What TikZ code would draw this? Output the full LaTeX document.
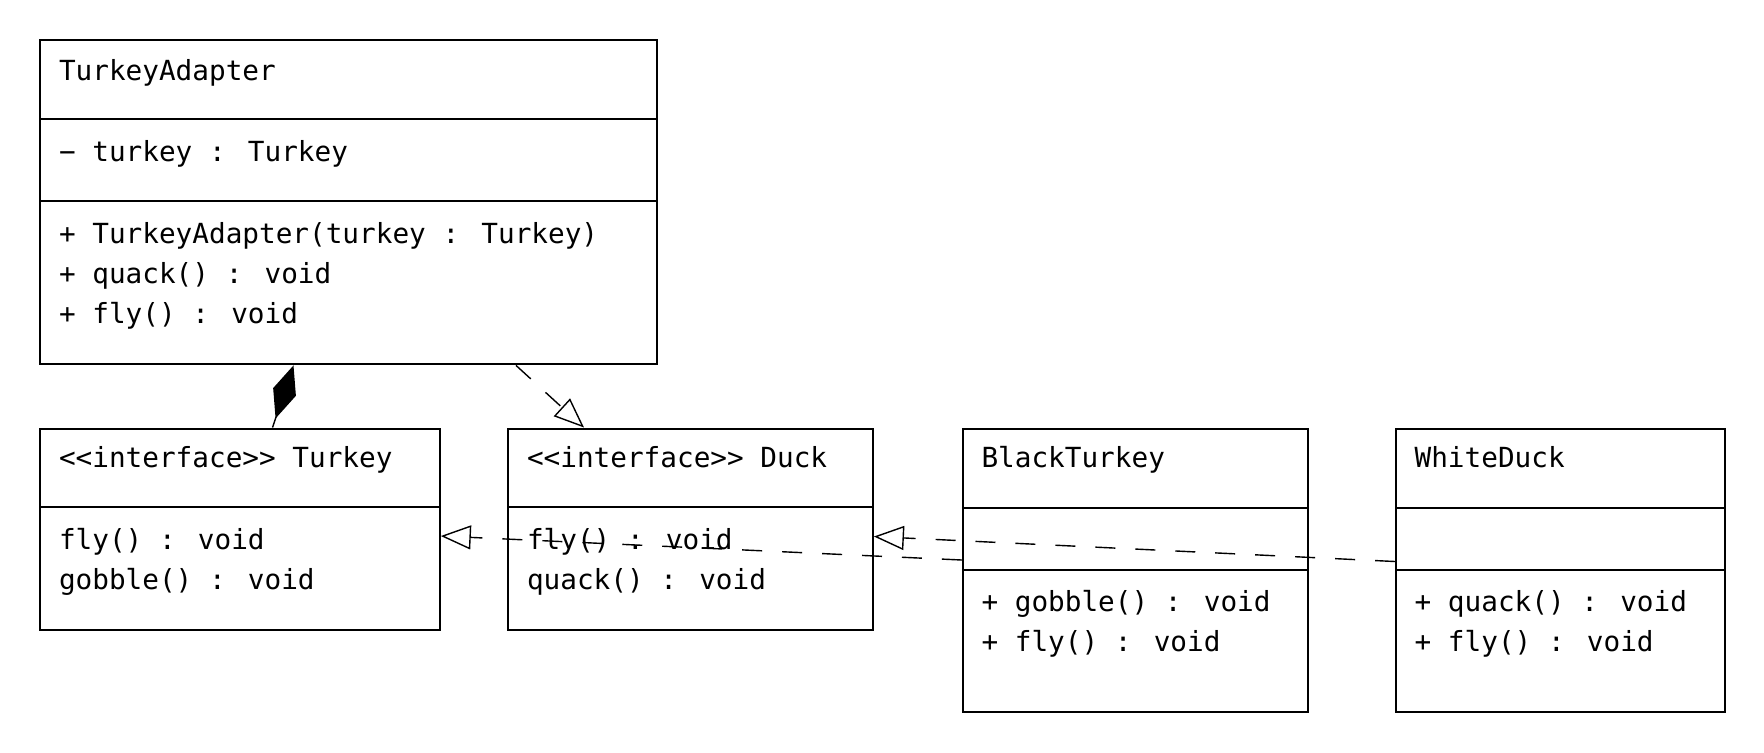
\documentclass[tikz,border=0pt]{standalone}
\usepackage{fontspec}
\newfontfamily\umlfont{DejaVu Sans Mono}
\usetikzlibrary{arrows.meta,calc}
\begin{document}
\begin{tikzpicture}[x=0.5pt,y=-0.5pt,
  box/.style={draw, line width=1pt, inner sep=0pt, anchor=north west},
  divider/.style={line width=1pt},
  txt/.style={anchor=base west, inner sep=0pt, font=\umlfont\fontsize{13.85pt}{20pt}\selectfont},
  real/.style={line width=0.7pt, dash pattern=on 10pt off 10pt, -{Triangle[open, length=15pt, width=12pt]}},
  comp/.style={line width=0.7pt, {Diamond[length=28pt, width=12pt]}-},
]
\useasboundingbox (0,0) rectangle (1764,752);

% TurkeyAdapter
\node[box, minimum width=308.3pt, minimum height=162pt] (ta) at (39.4,39.4) {};
\draw[divider] (ta.west |- 0,119.3) -- (ta.east |- 0,119.3);
\draw[divider] (ta.west |- 0,201.4) -- (ta.east |- 0,201.4);
\node[txt] (ta-name) at (58.6,80) {TurkeyAdapter};
\node[txt] (ta-a1) at (58.6,161.5) {− turkey : Turkey};
\node[txt] (ta-m1) at (58.6,243.3) {+ TurkeyAdapter(turkey : Turkey)};
\node[txt] (ta-m2) at (58.6,283.3) {+ quack() : void};
\node[txt] (ta-m3) at (58.6,323.3) {+ fly() : void};

% Turkey interface
\node[box, minimum width=199.7pt, minimum height=100.7pt] (turkey) at (39.4,427.5) {};
\draw[divider] (turkey.west |- 0,507.4) -- (turkey.east |- 0,507.4);
\node[txt] (tk-name) at (58.6,467.5) {<<interface>> Turkey};
\node[txt] (tk-m1) at (58.6,549.4) {fly() : void};
\node[txt] (tk-m2) at (58.6,589.4) {gobble() : void};

% Duck interface
\node[box, minimum width=182.25pt, minimum height=100.7pt] (duck) at (507.4,427.5) {};
\draw[divider] (duck.west |- 0,507.4) -- (duck.east |- 0,507.4);
\node[txt] (dk-name) at (526.6,467.5) {<<interface>> Duck};
\node[txt] (dk-m1) at (526.6,549.4) {fly() : void};
\node[txt] (dk-m2) at (526.6,589.4) {quack() : void};

% BlackTurkey
\node[box, minimum width=172.7pt, minimum height=141.9pt] (bt) at (961.9,427.5) {};
\draw[divider] (bt.west |- 0,507.5) -- (bt.east |- 0,507.5);
\draw[divider] (bt.west |- 0,569.5) -- (bt.east |- 0,569.5);
\node[txt] (bt-name) at (981.1,467.5) {BlackTurkey};
\node[txt] (bt-m1) at (981.1,611.5) {+ gobble() : void};
\node[txt] (bt-m2) at (981.1,651.3) {+ fly() : void};

% WhiteDuck
\node[box, minimum width=164.25pt, minimum height=141.9pt] (wd) at (1395,427.5) {};
\draw[divider] (wd.west |- 0,507.5) -- (wd.east |- 0,507.5);
\draw[divider] (wd.west |- 0,569.5) -- (wd.east |- 0,569.5);
\node[txt] (wd-name) at (1414.2,467.5) {WhiteDuck};
\node[txt] (wd-m1) at (1414.2,611.5) {+ quack() : void};
\node[txt] (wd-m2) at (1414.2,651.3) {+ fly() : void};

% connectors
\draw[comp] (ta.south -| 293.5,0) -- (turkey.north -| 272.5,0);
\draw[real] (ta.south -| 516,0) -- (duck.north -| 584,0);
\draw[real] (bt.west |- 0,560) -- (turkey.east |- 0,536);
\draw[real] (wd.west |- 0,561.5) -- (duck.east |- 0,536.5);
\end{tikzpicture}
\end{document}
